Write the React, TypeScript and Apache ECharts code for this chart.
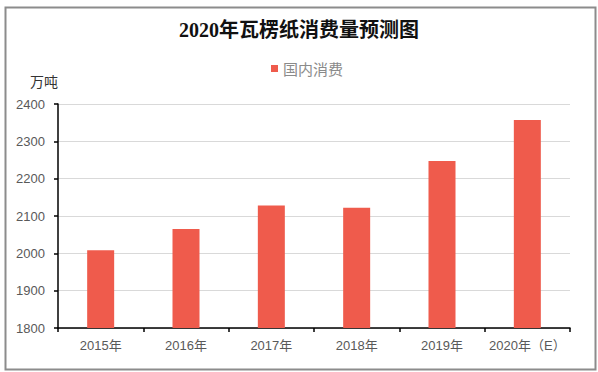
import React, { useEffect, useRef } from "react";
import * as echarts from "echarts";

const categories = ["2015年", "2016年", "2017年", "2018年", "2019年", "2020年（E）"];
const consumption = [2008, 2065, 2128, 2122, 2247, 2357];
const seriesName = "国内消费";
const titleText = "2020年瓦楞纸消费量预测图";
const unitText = "万吨";

export default function App() {
  const ref = useRef<HTMLDivElement>(null);
  useEffect(() => {
    if (!ref.current) return;
    const chart = echarts.init(ref.current, null, { renderer: "svg" });
    chart.setOption({
      animation: false,
      backgroundColor: "#ffffff",
      title: {
        text: titleText,
        left: "center",
        top: 20,
        padding: 0,
        textStyle: {
          fontFamily: "'Liberation Serif', 'Noto Sans CJK SC', serif",
          fontWeight: "bold",
          fontSize: 20,
          color: "#111111",
        },
      },
      legend: {
        data: [seriesName],
        left: 271,
        top: 61,
        padding: 0,
        icon: "rect",
        itemWidth: 7,
        itemHeight: 7,
        itemGap: 10,
        textStyle: {
          fontFamily: "'Noto Sans CJK SC', sans-serif",
          fontSize: 15,
          color: "#8a8a8a",
        },
      },
      grid: { left: 58, right: 28, top: 104, bottom: 44, containLabel: false },
      xAxis: {
        type: "category",
        data: categories,
        boundaryGap: true,
        axisLine: { lineStyle: { color: "#000000", width: 1.5 } },
        axisTick: { show: true, length: 4, lineStyle: { color: "#000000", width: 1.5 } },
        axisLabel: {
          interval: 0,
          margin: 11,
          fontSize: 13,
          color: "#595959",
          fontFamily: "'Liberation Sans', 'Noto Sans CJK SC', sans-serif",
        },
      },
      yAxis: {
        type: "value",
        min: 1800,
        max: 2400,
        interval: 100,
        name: unitText,
        nameLocation: "end",
        nameGap: 23,
        nameTextStyle: {
          align: "right",
          verticalAlign: "middle",
          fontSize: 14,
          color: "#333333",
          fontFamily: "'Noto Sans CJK SC', sans-serif",
        },
        axisLine: { show: true, lineStyle: { color: "#000000", width: 1.5 } },
        axisTick: { show: true, length: 4, lineStyle: { color: "#000000", width: 1.5 } },
        axisLabel: {
          margin: 13,
          fontSize: 13,
          color: "#595959",
          fontFamily: "'Liberation Sans', sans-serif",
          formatter: (v: number) => String(v),
        },
        splitLine: { show: true, lineStyle: { color: "#d9d9d9", width: 1 } },
      },
      series: [
        {
          name: seriesName,
          type: "bar",
          data: consumption,
          barWidth: 27,
          itemStyle: { color: "#ef5b4c" },
        },
      ],
      graphic: [
        {
          type: "rect",
          left: 3,
          top: 5,
          shape: { x: 0, y: 0, width: 590, height: 362 },
          style: { fill: "none", stroke: "#8c8c8c", lineWidth: 2 },
          silent: true,
        },
      ],
    });
    return () => chart.dispose();
  }, []);
  return (
    <div
      ref={ref}
      style={{ position: "fixed", left: 0, top: 0, width: 598, height: 372 }}
    />
  );
}
